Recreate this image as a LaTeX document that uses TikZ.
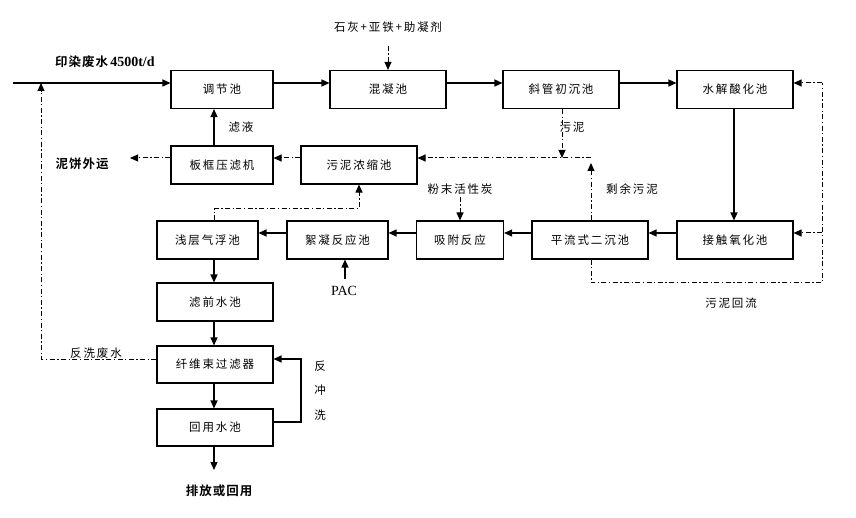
\documentclass[tikz,border=0pt]{standalone}
\usepackage{fontspec}
\setmainfont{Liberation Serif}
\newfontfamily\cjk[LetterSpace=16]{Noto Sans CJK SC}
\newfontfamily\cjkb[LetterSpace=8]{Noto Sans CJK SC Bold}
\usetikzlibrary{arrows.meta,calc}
\begin{document}
\begin{tikzpicture}[x=1pt,y=-1pt,
  box/.style={draw,line width=1.1pt,minimum height=38pt,inner sep=0pt,font=\cjk\fontsize{11.5}{13}\selectfont},
  flow/.style={line width=1.3pt,-{Triangle[length=8pt,width=7pt]}},
  dd/.style={line width=1pt,dash pattern=on 5pt off 2.5pt on 1.3pt off 2.5pt},
  ddarrow/.style={dd,-{Triangle[length=8pt,width=7pt]}},
  lab/.style={inner sep=0pt,font=\cjk\fontsize{11.5}{13}\selectfont},
  blab/.style={inner sep=0pt,font=\cjkb\fontsize{12.5}{14}\selectfont}]
\useasboundingbox (0,0) rectangle (856,518);
% boxes
\node[box,minimum width=102pt] (A) at (222,89.5) {调节池};
\node[box,minimum width=116pt] (B) at (388,89.5) {混凝池};
\node[box,minimum width=116pt] (C) at (561,89.5) {斜管初沉池};
\node[box,minimum width=116pt] (D) at (735,89.5) {水解酸化池};
\node[box,minimum width=102pt] (E) at (222,165) {板框压滤机};
\node[box,minimum width=116pt] (F) at (359,165) {污泥浓缩池};
\node[box,minimum width=101pt] (G) at (207.5,240) {浅层气浮池};
\node[box,minimum width=101pt] (H) at (337.5,240) {絮凝反应池};
\node[box,minimum width=87pt] (I) at (460,240) {吸附反应};
\node[box,minimum width=116pt] (J) at (590,240) {平流式二沉池};
\node[box,minimum width=116pt] (K) at (735,240) {接触氧化池};
\node[box,minimum width=116pt] (L) at (215,302) {滤前水池};
\node[box,minimum width=116pt,minimum height=37pt] (M) at (215,364.5) {纤维束过滤器};
\node[box,minimum width=116pt,minimum height=37pt] (N) at (215,427.5) {回用水池};
% coordinates
\coordinate (in0) at (13,83);
\coordinate (chem) at (388,46);
\coordinate (cake) at (130,158);
\coordinate (x214) at (214,0);
\coordinate (s1) at (562,158);
\coordinate (s2) at (591,158);
\coordinate (s3) at (591,163);
\coordinate (r1) at (591,283);
\coordinate (r2) at (822,283);
\coordinate (r3) at (822,83);
\coordinate (r4) at (822,233);
\coordinate (pw) at (460,197);
\coordinate (pac) at (345,279);
\coordinate (f1) at (214,209);
\coordinate (f2) at (359,209);
\coordinate (out) at (214,470);
\coordinate (b1) at (301,422);
\coordinate (b2) at (301,359);
\coordinate (w1) at (41,359);
\coordinate (w2) at (41,83);
% labels
\node[blab,anchor=west] (t0) at (55,62) {印染废水\,{\rmfamily\bfseries\fontsize{14}{16}\selectfont 4500t/d}};
\node[lab] (t1) at (388,27) {石灰+亚铁+助凝剂};
\node[lab] (t2) at (241,127) {滤液};
\node[blab] (t3) at (82,164) {泥饼外运};
\node[lab] (t4) at (572,127) {污泥};
\node[lab] (t5) at (460,189) {粉末活性炭};
\node[lab] (t6) at (632,189) {剩余污泥};
\node[lab] (t7) at (731,303) {污泥回流};
\node[inner sep=0pt,font=\rmfamily\fontsize{14}{16}\selectfont] (t8) at (344,291) {PAC};
\node[lab] (t9) at (96,353) {反洗废水};
\node[lab] (t10) at (320,366) {反};
\node[lab] (t11) at (320,390) {冲};
\node[lab] (t12) at (320,415) {洗};
\node[blab] (t13) at (219,491) {排放或回用};
% main flow
\draw[flow] (in0) -- (in0 -| A.west);
\draw[flow] (A.east |- in0) -- (B.west |- in0);
\draw[flow] (B.east |- in0) -- (C.west |- in0);
\draw[flow] (C.east |- in0) -- (D.west |- in0);
\draw[flow] (D.south -| 734,0) -- (K.north -| 734,0);
\draw[flow] (K.west |- r4) -- (J.east |- r4);
\draw[flow] (J.west |- r4) -- (I.east |- r4);
\draw[flow] (I.west |- r4) -- (H.east |- r4);
\draw[flow] (H.west |- r4) -- (G.east |- r4);
\draw[flow] (G.south -| x214) -- (L.north -| x214);
\draw[flow] (L.south -| x214) -- (M.north -| x214);
\draw[flow] (M.south -| x214) -- (N.north -| x214);
\draw[flow] (N.south -| x214) -- (out);
\draw[flow] (E.north -| x214) -- (A.south -| x214);
\draw[flow] (pac) -- (H.south -| pac);
\draw[flow] (N.east |- b1) -- (b1) -- (b2) -- (M.east |- b2);
% dashed / dash-dot
\draw[ddarrow] (chem) -- (B.north);
\draw[ddarrow] (pw) -- (I.north);
\draw[ddarrow] (E.west |- cake) -- (cake);
\draw[ddarrow] (F.west |- cake) -- (E.east |- cake);
\draw[ddarrow] (C.south -| s1) -- (s1);
\draw[ddarrow] (s2) -- (F.east |- s2);
\draw[ddarrow] (J.north -| s3) -- (s3);
\draw[dd] (J.south -| r1) -- (r1) -- (r2) -- (r3);
\draw[ddarrow] (r3) -- (D.east |- r3);
\draw[ddarrow] (r4) -- (K.east |- r4);
\draw[ddarrow] (G.north -| f1) -- (f1) -- (f2) -- (F.south -| f2);
\draw[dd] (M.west |- w1) -- (w1) -- ($(w2)+(0,4)$);
\draw[ddarrow] ($(w2)+(0,8)$) -- (w2);
\end{tikzpicture}
\end{document}
